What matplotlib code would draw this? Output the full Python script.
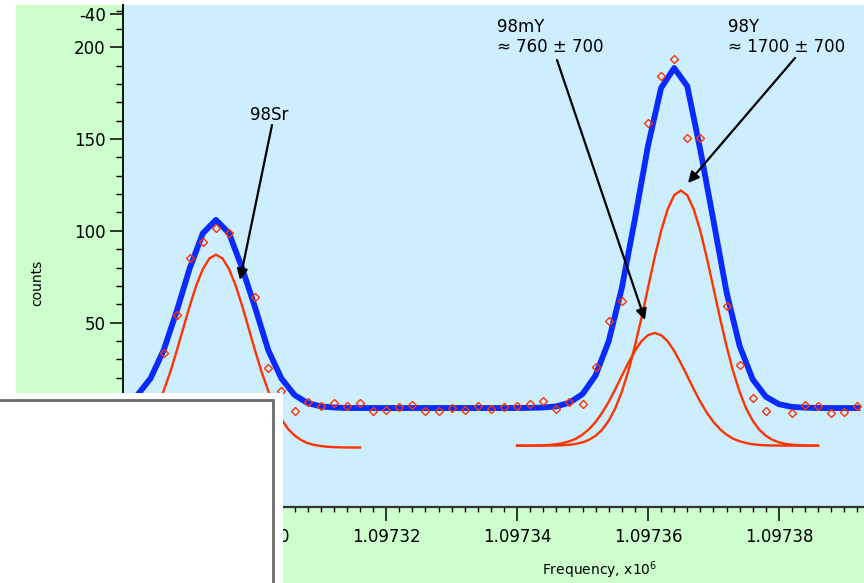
import matplotlib
matplotlib.use("Agg")
import numpy as np
import matplotlib.pyplot as plt
from matplotlib.patches import Rectangle
from matplotlib.ticker import MultipleLocator, FormatStrFormatter

plt.rcParams["axes.unicode_minus"] = False

# ---------------- data ----------------
# total fit, sampled on the scan grid (x10^6), 1.097280 ... 1.097392
fit_start, fit_stop = 1.097280, 1.097392
total_fit = [6.2, 10.6, 19.6, 34.9, 56.2, 79.7, 98.7, 106.0, 98.7, 79.7, 58.0,
             34.9, 19.6, 10.6, 6.2, 4.4, 3.8, 3.5, 3.5, 3.5, 3.5, 3.5, 3.5, 3.5,
             3.5, 3.5, 3.5, 3.5, 3.5, 3.5, 3.5, 3.6, 3.8, 4.4, 6.4, 11.1, 21.3,
             39.9, 68.8, 106.4, 146.3, 177.8, 188.7, 178.8, 144.0, 105.6, 66.6,
             37.3, 19.1, 9.7, 5.6, 4.1, 3.7, 3.5, 3.5, 3.5, 3.5]

# 98Sr component, 1.097280 ... 1.097316
sr_start, sr_stop = 1.097280, 1.097316
sr_comp = [-15.6, -13.9, -11.4, -7.8, -2.6, 4.1, 12.7, 22.9, 34.5, 46.9, 59.2,
           70.3, 79.2, 85.0, 87.0, 85.0, 79.2, 70.3, 59.2, 46.9, 34.5, 22.9,
           12.7, 4.1, -2.6, -7.8, -11.4, -13.9, -15.6, -16.6, -17.2, -17.6,
           -17.8, -17.9, -18.0, -18.0, -18.0]

# 98mY and 98Y components, 1.097340 ... 1.097386
y_start, y_stop = 1.097340, 1.097386
ym_comp = [-17.0, -17.0, -16.9, -16.9, -16.8, -16.6, -16.2, -15.6, -14.6, -13.2,
           -11.0, -8.0, -4.1, 0.9, 6.9, 13.7, 21.0, 28.1, 34.6, 39.9,
           43.2, 44.4, 43.2, 39.9, 34.6, 28.1, 21.0, 13.7, 6.9, 0.9,
           -4.1, -8.0, -11.0, -13.2, -14.6, -15.6, -16.2, -16.6, -16.8, -16.9,
           -16.9, -17.0, -17.0, -17.0, -17.0, -17.0, -17.0]
yg_comp = [-17.0, -17.0, -17.0, -17.0, -17.0, -16.9, -16.9, -16.7, -16.5, -16.0,
           -15.2, -13.8, -11.6, -8.3, -3.4, 3.3, 12.3, 23.6, 37.2, 52.6,
           68.9, 85.2, 99.9, 111.7, 119.4, 122.0, 119.4, 111.7, 99.9, 85.2,
           68.9, 52.6, 37.2, 23.6, 12.3, 3.3, -3.4, -8.3, -11.6, -13.8,
           -15.2, -16.0, -16.5, -16.7, -16.9, -16.9, -17.0]

data_freq = [1.097286, 1.097288, 1.097290, 1.097292, 1.097294, 1.097296,
             1.097300, 1.097302, 1.097304, 1.097306, 1.097308, 1.097310, 1.097312,
             1.097314, 1.097316, 1.097318, 1.097320, 1.097322, 1.097324, 1.097326,
             1.097328, 1.097330, 1.097332, 1.097334, 1.097336, 1.097338, 1.097340,
             1.097342, 1.097344, 1.097346, 1.097348, 1.097350, 1.097352, 1.097354,
             1.097356, 1.097360, 1.097362, 1.097364, 1.097366, 1.097368,
             1.097372, 1.097374, 1.097376, 1.097378, 1.097382, 1.097384,
             1.097386, 1.097388, 1.097390, 1.097392]
data_counts = [33.5, 54.0, 85.4, 94.0, 101.4, 98.7,
               64.0, 25.5, 12.8, 2.0, 7.0, 4.5, 6.5,
               4.5, 6.5, 2.0, 2.5, 4.0, 5.0, 2.0,
               2.0, 3.5, 2.5, 4.6, 3.0, 4.2, 4.6,
               5.7, 7.5, 2.8, 7.0, 5.7, 25.7, 51.0,
               62.0, 158.6, 184.5, 193.6, 150.4, 150.4,
               59.0, 27.0, 9.0, 2.0, 1.0, 5.2,
               4.6, 0.6, 1.5, 4.6]

x_ticks = [1.09730, 1.09732, 1.09734, 1.09736, 1.09738]
y_ticks = [-50, 0, 50, 100, 150, 200]

fit_freq = np.linspace(fit_start, fit_stop, len(total_fit))
sr_freq = np.linspace(sr_start, sr_stop, len(sr_comp))
y_freq = np.linspace(y_start, y_stop, len(ym_comp))

# ---------------- figure ----------------
W, H = 864, 583
fig = plt.figure(figsize=(W / 100, H / 100), dpi=100, facecolor="white")

def fx(px):
    return px / W

def fy(py):
    return (H - py) / H

green = "#ccffcc"
blue_bg = "#cceeff"
red = "#ff3300"
fig.patches.append(Rectangle((fx(16), 0), 1 - fx(16), fy(5), transform=fig.transFigure,
                             facecolor=green, edgecolor="none", zorder=-10))

ax = fig.add_axes([fx(123), fy(507), fx(864) - fx(123), fy(5) - fy(507)])
ax.set_facecolor(blue_bg)

ax.plot(sr_freq, sr_comp, color=red, lw=1.7, zorder=2)
ax.plot(y_freq, ym_comp, color=red, lw=1.7, zorder=2)
ax.plot(y_freq, yg_comp, color=red, lw=1.7, zorder=2)
ax.plot(fit_freq, total_fit, color="#0a2bff", lw=4.2, zorder=3)
ax.plot(data_freq, data_counts, linestyle="none", marker="D", markersize=3.8,
        markerfacecolor="none", markeredgecolor=red, markeredgewidth=1.0, zorder=4)

ax.set_xlim(1.0972798, 1.0973930)
ax.set_ylim(-50.4, 223.0)
ax.xaxis.set_major_locator(plt.FixedLocator(x_ticks))
ax.xaxis.set_minor_locator(MultipleLocator(0.000002))
ax.xaxis.set_major_formatter(FormatStrFormatter("%.5f"))
ax.yaxis.set_major_locator(plt.FixedLocator(y_ticks))
ax.yaxis.set_minor_locator(MultipleLocator(10))
for s in ["top", "right"]:
    ax.spines[s].set_visible(False)
ax.spines["left"].set_linewidth(1.3)
ax.spines["bottom"].set_linewidth(1.6)
ax.spines["bottom"].set_color("#333333")
ax.tick_params(axis="x", which="major", direction="out", length=10, width=1.1,
               labelsize=12, pad=5)
ax.tick_params(axis="x", which="minor", direction="out", length=3.6, width=1.0)
ax.tick_params(axis="y", which="major", direction="out", length=9.4, width=1.1,
               labelsize=12, pad=3)
ax.tick_params(axis="y", which="minor", direction="out", length=5, width=1.0)

fig.text(fx(37), fy(283), "counts", rotation=90, ha="center", va="center", fontsize=10)
fig.text(fx(600), fy(570), "Frequency, x10$^{6}$", ha="center", va="center", fontsize=10)

# residual panel stub (-40 tick)
ax2 = fig.add_axes([fx(123), fy(14), 0.0001, fy(5) - fy(14)])
ax2.patch.set_visible(False)
ax2.set_ylim(-40, -35)
ax2.set_yticks([-40])
ax2.set_xticks([])
for s in ["top", "right", "bottom"]:
    ax2.spines[s].set_visible(False)
ax2.spines["left"].set_linewidth(1.3)
ax2.tick_params(axis="y", direction="out", length=9.4, width=1.1, labelsize=12, pad=3)

# annotations (figure pixel coordinates, origin bottom-left)
arrow = dict(arrowstyle="-|>", color="black", lw=1.6, mutation_scale=16, shrinkA=0, shrinkB=0)
fig.text(fx(250), fy(106), "98Sr", ha="left", va="top", fontsize=12)
ax.annotate("", xy=(240, H - 280), xytext=(272, H - 125), xycoords="figure pixels",
            textcoords="figure pixels", arrowprops=arrow)
fig.text(fx(497), fy(18), "98mY\n\u2248 760 \u00b1 700", ha="left", va="top", fontsize=12,
         linespacing=1.15)
ax.annotate("", xy=(645, H - 320), xytext=(557, H - 60), xycoords="figure pixels",
            textcoords="figure pixels", arrowprops=arrow)
fig.text(fx(728), fy(18), "98Y\n\u2248 1700 \u00b1 700", ha="left", va="top", fontsize=12,
         linespacing=1.15)
ax.annotate("", xy=(688, H - 183), xytext=(795, H - 58), xycoords="figure pixels",
            textcoords="figure pixels", arrowprops=arrow)

# overlapping white box in the lower-left corner
fig.patches.append(Rectangle((0, 0), fx(283), fy(393), transform=fig.transFigure,
                             facecolor="white", edgecolor="none", zorder=20))
fig.patches.append(Rectangle((-0.01, -0.01), fx(273) + 0.01, fy(400) + 0.01,
                             transform=fig.transFigure, facecolor="none",
                             edgecolor="#6a6a6a", lw=2.0, zorder=21))

fig.savefig("out.png", dpi=100, facecolor="white")
